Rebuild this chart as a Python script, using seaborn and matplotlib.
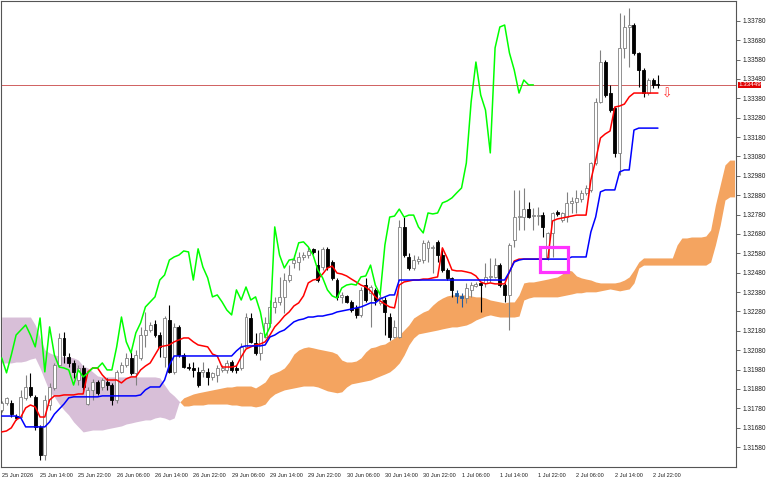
import matplotlib
matplotlib.use("Agg")
import matplotlib.pyplot as plt
import matplotlib.transforms as mtransforms
from matplotlib.patches import Rectangle
import numpy as np
import seaborn as sns

# H1 candles, bar 0 = 25 Jun 06:00
opens = [
    1.31771, 1.31808, 1.31808, 1.31740, 1.31735, 1.31834, 1.31890, 1.31839, 1.31684, 1.31539,
    1.31797, 1.31885, 1.32003, 1.32143, 1.32045, 1.32014, 1.31926, 1.31988, 1.31802, 1.31875,
    1.31916, 1.31890, 1.31916, 1.31900, 1.31823, 1.31968, 1.32003, 1.32040, 1.31963, 1.32040,
    1.32158, 1.32184, 1.32215, 1.32158, 1.32045, 1.32236, 1.31968, 1.32200, 1.32055, 1.31993,
    1.31988, 1.31968, 1.31968, 1.31968, 1.31942, 1.31952, 1.31978, 1.31978, 1.32019, 1.31988,
    1.31988, 1.32097, 1.32246, 1.32118, 1.32066, 1.32148, 1.32221, 1.32303, 1.32329, 1.32355,
    1.32442, 1.32530, 1.32535, 1.32561, 1.32571, 1.32603, 1.32519, 1.32509, 1.32603, 1.32535,
    1.32442, 1.32355, 1.32360, 1.32329, 1.32298, 1.32262, 1.32416, 1.32376, 1.32391, 1.32324,
    1.32339, 1.32251, 1.32148, 1.32148, 1.32716, 1.32561, 1.32504, 1.32540, 1.32545, 1.32608,
    1.32608, 1.32639, 1.32571, 1.32494, 1.32453, 1.32376, 1.32360, 1.32349, 1.32391, 1.32411,
    1.32427, 1.32427, 1.32458, 1.32458, 1.32519, 1.32416, 1.32365, 1.32649, 1.32767, 1.32767,
    1.32808, 1.32772, 1.32772, 1.32777, 1.32561, 1.32685, 1.32793, 1.32752, 1.32767, 1.32840,
    1.32845, 1.32861, 1.32892, 1.32907, 1.33046, 1.33361, 1.33567, 1.33407, 1.33330, 1.33098,
    1.33640, 1.33748, 1.33758, 1.33614, 1.33526, 1.33407, 1.33474, 1.33455,
]
highs = [
    1.31818, 1.31839, 1.31823, 1.31750, 1.31875, 1.31952, 1.31963, 1.31849, 1.31694, 1.31849,
    1.31911, 1.32014, 1.32169, 1.32174, 1.32066, 1.32029, 1.32003, 1.32003, 1.31890, 1.31932,
    1.31926, 1.31937, 1.31937, 1.31911, 1.31978, 1.32019, 1.32066, 1.32071, 1.32081, 1.32200,
    1.32277, 1.32226, 1.32236, 1.32174, 1.32256, 1.32313, 1.32221, 1.32210, 1.32066, 1.32014,
    1.32019, 1.31993, 1.32019, 1.31988, 1.31968, 1.32003, 1.32003, 1.32029, 1.32029, 1.32003,
    1.32118, 1.32272, 1.32272, 1.32169, 1.32174, 1.32251, 1.32339, 1.32355, 1.32458, 1.32479,
    1.32519, 1.32571, 1.32587, 1.32587, 1.32613, 1.32608, 1.32597, 1.32613, 1.32613, 1.32545,
    1.32453, 1.32381, 1.32365, 1.32339, 1.32313, 1.32406, 1.32453, 1.32416, 1.32401, 1.32370,
    1.32355, 1.32272, 1.32236, 1.32752, 1.32767, 1.32582, 1.32571, 1.32566, 1.32649, 1.32649,
    1.32623, 1.32649, 1.32608, 1.32504, 1.32458, 1.32391, 1.32376, 1.32427, 1.32432, 1.32432,
    1.32432, 1.32530, 1.32556, 1.32556, 1.32530, 1.32427, 1.32634, 1.32907, 1.32907, 1.32917,
    1.32845, 1.32814, 1.32819, 1.32793, 1.32690, 1.32793, 1.32803, 1.32793, 1.32896, 1.32871,
    1.32907, 1.32907, 1.32933, 1.33051, 1.33381, 1.33629, 1.33577, 1.33448, 1.33335, 1.33820,
    1.33810, 1.33846, 1.33769, 1.33619, 1.33536, 1.33484, 1.33484, 1.33500,
]
lows = [
    1.31761, 1.31797, 1.31735, 1.31720, 1.31730, 1.31823, 1.31839, 1.31668, 1.31513, 1.31513,
    1.31771, 1.31875, 1.31993, 1.32014, 1.31993, 1.31937, 1.31900, 1.31875, 1.31797, 1.31823,
    1.31849, 1.31875, 1.31875, 1.31797, 1.31808, 1.31963, 1.31993, 1.31952, 1.31900, 1.32029,
    1.32097, 1.32174, 1.32148, 1.32045, 1.31993, 1.31963, 1.31957, 1.32045, 1.31988, 1.31978,
    1.31942, 1.31890, 1.31942, 1.31900, 1.31926, 1.31916, 1.31968, 1.31963, 1.31968, 1.31963,
    1.31978, 1.32092, 1.32118, 1.32055, 1.32029, 1.32143, 1.32200, 1.32272, 1.32313, 1.32272,
    1.32432, 1.32504, 1.32494, 1.32545, 1.32556, 1.32576, 1.32432, 1.32494, 1.32494, 1.32442,
    1.32339, 1.32324, 1.32324, 1.32277, 1.32246, 1.32251, 1.32329, 1.32200, 1.32313, 1.32313,
    1.32158, 1.32133, 1.32143, 1.32143, 1.32561, 1.32494, 1.32494, 1.32524, 1.32530, 1.32535,
    1.32479, 1.32535, 1.32484, 1.32442, 1.32355, 1.32324, 1.32303, 1.32324, 1.32355, 1.32406,
    1.32277, 1.32406, 1.32432, 1.32453, 1.32406, 1.32329, 1.32184, 1.32613, 1.32700, 1.32700,
    1.32762, 1.32700, 1.32726, 1.32664, 1.32545, 1.32561, 1.32772, 1.32742, 1.32742, 1.32788,
    1.32788, 1.32845, 1.32881, 1.32897, 1.33035, 1.33356, 1.33387, 1.33309, 1.33077, 1.32984,
    1.33588, 1.33541, 1.33603, 1.33438, 1.33387, 1.33397, 1.33433, 1.33433,
]
closes = [
    1.31808, 1.31834, 1.31750, 1.31730, 1.31839, 1.31890, 1.31849, 1.31684, 1.31539, 1.31823,
    1.31890, 1.32003, 1.32143, 1.32055, 1.32014, 1.31968, 1.31988, 1.31890, 1.31875, 1.31916,
    1.31860, 1.31926, 1.31900, 1.31823, 1.31968, 1.32003, 1.32040, 1.31963, 1.32055, 1.32158,
    1.32184, 1.32210, 1.32158, 1.32097, 1.32246, 1.31968, 1.32200, 1.32055, 1.31993, 1.31988,
    1.31978, 1.31900, 1.31978, 1.31942, 1.31963, 1.31988, 1.31988, 1.32014, 1.31978, 1.31978,
    1.32097, 1.32251, 1.32123, 1.32066, 1.32169, 1.32221, 1.32303, 1.32329, 1.32355, 1.32442,
    1.32468, 1.32545, 1.32561, 1.32571, 1.32592, 1.32587, 1.32442, 1.32603, 1.32509, 1.32453,
    1.32355, 1.32365, 1.32329, 1.32287, 1.32262, 1.32391, 1.32339, 1.32406, 1.32339, 1.32355,
    1.32277, 1.32148, 1.32200, 1.32716, 1.32571, 1.32504, 1.32545, 1.32550, 1.32634, 1.32639,
    1.32613, 1.32571, 1.32494, 1.32453, 1.32391, 1.32360, 1.32349, 1.32401, 1.32416, 1.32421,
    1.32416, 1.32458, 1.32463, 1.32519, 1.32416, 1.32365, 1.32623, 1.32767, 1.32772, 1.32808,
    1.32767, 1.32777, 1.32777, 1.32716, 1.32685, 1.32788, 1.32783, 1.32788, 1.32840, 1.32850,
    1.32866, 1.32892, 1.32917, 1.33046, 1.33361, 1.33567, 1.33397, 1.33319, 1.33098, 1.33640,
    1.33748, 1.33758, 1.33614, 1.33526, 1.33407, 1.33474, 1.33449, 1.33449,
]

# Ichimoku lines
tenkan = [
    1.31658, 1.31663, 1.31679, 1.31720, 1.31735, 1.31782, 1.31797, 1.31787, 1.31735, 1.31735,
    1.31823, 1.31844, 1.31844, 1.31849, 1.31849, 1.31849, 1.31854, 1.31854, 1.31968, 1.31988,
    1.31988, 1.31952, 1.31926, 1.31926, 1.31926, 1.31911, 1.31932, 1.31942, 1.31942, 1.31978,
    1.31998, 1.32014, 1.32055, 1.32097, 1.32102, 1.32107, 1.32123, 1.32133, 1.32143, 1.32143,
    1.32123, 1.32107, 1.32102, 1.32097, 1.32060, 1.32050, 1.31993, 1.31993, 1.31993, 1.31998,
    1.32045, 1.32086, 1.32097, 1.32107, 1.32112, 1.32123, 1.32158, 1.32200, 1.32226, 1.32256,
    1.32277, 1.32308, 1.32324, 1.32360, 1.32427, 1.32442, 1.32447, 1.32473, 1.32504, 1.32514,
    1.32478, 1.32473, 1.32463, 1.32447, 1.32432, 1.32416, 1.32406, 1.32386, 1.32355, 1.32334,
    1.32318, 1.32303, 1.32298, 1.32416, 1.32432, 1.32437, 1.32442, 1.32442, 1.32447, 1.32447,
    1.32453, 1.32458, 1.32608, 1.32556, 1.32494, 1.32489, 1.32489, 1.32484, 1.32478, 1.32463,
    1.32432, 1.32422, 1.32427, 1.32422, 1.32422, 1.32422, 1.32484, 1.32540, 1.32550, 1.32550,
    1.32550, 1.32550, 1.32550, 1.32550, 1.32550, 1.32747, 1.32757, 1.32762, 1.32767, 1.32772,
    1.32777, 1.32777, 1.32777, 1.32958, 1.33061, 1.33175, 1.33196, 1.33211, 1.33335, 1.33340,
    1.33350, 1.33387, 1.33407, 1.33407, 1.33407, 1.33407, 1.33407, 1.33407,
]
kijun = [
    1.31740, 1.31740, 1.31740, 1.31740, 1.31730, 1.31684, 1.31684, 1.31684, 1.31684, 1.31684,
    1.31710, 1.31750, 1.31776, 1.31802, 1.31834, 1.31839, 1.31839, 1.31839, 1.31839, 1.31839,
    1.31839, 1.31844, 1.31844, 1.31844, 1.31844, 1.31844, 1.31844, 1.31844, 1.31844, 1.31849,
    1.31875, 1.31890, 1.31890, 1.31890, 1.31926, 1.32003, 1.32050, 1.32050, 1.32050, 1.32050,
    1.32050, 1.32050, 1.32050, 1.32050, 1.32050, 1.32050, 1.32050, 1.32050, 1.32050, 1.32076,
    1.32097, 1.32102, 1.32102, 1.32102, 1.32102, 1.32107, 1.32148, 1.32158, 1.32174, 1.32184,
    1.32205, 1.32226, 1.32236, 1.32241, 1.32251, 1.32251, 1.32256, 1.32256, 1.32262, 1.32267,
    1.32277, 1.32282, 1.32287, 1.32292, 1.32298, 1.32303, 1.32313, 1.32324, 1.32324, 1.32344,
    1.32355, 1.32365, 1.32365, 1.32442, 1.32442, 1.32442, 1.32442, 1.32442, 1.32442, 1.32442,
    1.32442, 1.32442, 1.32442, 1.32442, 1.32442, 1.32442, 1.32442, 1.32442, 1.32442, 1.32442,
    1.32442, 1.32442, 1.32442, 1.32442, 1.32442, 1.32442, 1.32484, 1.32535, 1.32545, 1.32550,
    1.32550, 1.32550, 1.32550, 1.32550, 1.32550, 1.32550, 1.32550, 1.32550, 1.32550, 1.32561,
    1.32561, 1.32561, 1.32561, 1.32690, 1.32767, 1.32897, 1.32907, 1.32907, 1.32907, 1.33000,
    1.33010, 1.33010, 1.33216, 1.33226, 1.33226, 1.33226, 1.33226, 1.33226,
]
# cloud, already shifted forward (runs past the last candle)
span_a = [
    1.32014, 1.32014, 1.32014, 1.32019, 1.32019, 1.32024, 1.32034, 1.32040, 1.31988, 1.31926,
    1.31865, 1.31839, 1.31802, 1.31771, 1.31745, 1.31710, 1.31684, 1.31658, 1.31663, 1.31668,
    1.31668, 1.31668, 1.31674, 1.31679, 1.31684, 1.31689, 1.31699, 1.31704, 1.31710, 1.31715,
    1.31720, 1.31720, 1.31730, 1.31735, 1.31730, 1.31720, 1.31730, 1.31808, 1.31834, 1.31844,
    1.31854, 1.31860, 1.31865, 1.31870, 1.31875, 1.31880, 1.31885, 1.31890, 1.31890, 1.31895,
    1.31895, 1.31895, 1.31895, 1.31885, 1.31900, 1.31916, 1.31952, 1.31963, 1.31973, 1.31988,
    1.32019, 1.32060, 1.32081, 1.32092, 1.32097, 1.32092, 1.32086, 1.32081, 1.32076, 1.32071,
    1.32060, 1.32029, 1.32019, 1.32019, 1.32024, 1.32040, 1.32071, 1.32092, 1.32097, 1.32107,
    1.32112, 1.32128, 1.32143, 1.32158, 1.32184, 1.32210, 1.32246, 1.32262, 1.32277, 1.32287,
    1.32313, 1.32334, 1.32349, 1.32360, 1.32365, 1.32365, 1.32365, 1.32365, 1.32360, 1.32355,
    1.32355, 1.32349, 1.32339, 1.32334, 1.32329, 1.32324, 1.32329, 1.32329, 1.32365, 1.32427,
    1.32432, 1.32432, 1.32437, 1.32442, 1.32447, 1.32453, 1.32458, 1.32473, 1.32494, 1.32489,
    1.32463, 1.32453, 1.32447, 1.32442, 1.32432, 1.32427, 1.32427, 1.32427, 1.32427, 1.32432,
    1.32442, 1.32458, 1.32494, 1.32535, 1.32556, 1.32556, 1.32556, 1.32556, 1.32556, 1.32556,
    1.32556, 1.32623, 1.32659, 1.32659, 1.32664, 1.32664, 1.32664, 1.32669, 1.32700, 1.32829,
    1.32933, 1.33036, 1.33061, 1.33061,
]
span_b = [
    1.32251, 1.32251, 1.32251, 1.32251, 1.32251, 1.32251, 1.32251, 1.32210, 1.32143, 1.32081,
    1.32066, 1.32055, 1.32050, 1.32045, 1.32045, 1.32040, 1.32029, 1.31998, 1.31988, 1.31968,
    1.31947, 1.31942, 1.31942, 1.31942, 1.31942, 1.31942, 1.31942, 1.31942, 1.31942, 1.31942,
    1.31942, 1.31942, 1.31942, 1.31937, 1.31900, 1.31865, 1.31844, 1.31818, 1.31792, 1.31792,
    1.31797, 1.31797, 1.31797, 1.31802, 1.31802, 1.31802, 1.31802, 1.31802, 1.31797, 1.31797,
    1.31792, 1.31792, 1.31792, 1.31787, 1.31792, 1.31802, 1.31834, 1.31854, 1.31865, 1.31875,
    1.31880, 1.31885, 1.31890, 1.31895, 1.31895, 1.31895, 1.31890, 1.31880, 1.31870, 1.31865,
    1.31860, 1.31865, 1.31890, 1.31906, 1.31911, 1.31916, 1.31921, 1.31926, 1.31937, 1.31947,
    1.31957, 1.31968, 1.31988, 1.32014, 1.32055, 1.32107, 1.32143, 1.32164, 1.32169, 1.32174,
    1.32179, 1.32184, 1.32190, 1.32195, 1.32200, 1.32200, 1.32205, 1.32210, 1.32221, 1.32236,
    1.32246, 1.32256, 1.32262, 1.32256, 1.32251, 1.32251, 1.32251, 1.32251, 1.32256, 1.32339,
    1.32349, 1.32355, 1.32355, 1.32355, 1.32355, 1.32355, 1.32355, 1.32360, 1.32365, 1.32370,
    1.32376, 1.32376, 1.32381, 1.32381, 1.32381, 1.32386, 1.32391, 1.32396, 1.32391, 1.32386,
    1.32391, 1.32396, 1.32427, 1.32504, 1.32519, 1.32519, 1.32519, 1.32519, 1.32519, 1.32519,
    1.32519, 1.32519, 1.32519, 1.32519, 1.32519, 1.32519, 1.32519, 1.32519, 1.32535, 1.32623,
    1.32726, 1.32855, 1.32871, 1.32871,
]

tick_bars = [0, 8, 16, 24, 32, 40, 48, 56, 64, 72, 80, 88, 96, 104, 112, 120, 128, 136]
tick_labels = ["25 Jun 2026", "25 Jun 14:00", "25 Jun 22:00", "26 Jun 06:00", "26 Jun 14:00",
               "26 Jun 22:00", "29 Jun 06:00", "29 Jun 14:00", "29 Jun 22:00", "30 Jun 06:00",
               "30 Jun 14:00", "30 Jun 22:00", "1 Jul 06:00", "1 Jul 14:00", "1 Jul 22:00",
               "2 Jul 06:00", "2 Jul 14:00", "2 Jul 22:00"]
blue_bars = [95, 96]
signal_bar, signal_price = 139, 1.33400
box_bars = (112.3, 118.2)
box_prices = (1.32484, 1.32612)

sns.set_style("white")
plt.rcParams['font.family'] = ['Liberation Sans', 'DejaVu Sans']

o = np.array(opens); h = np.array(highs); l = np.array(lows); c = np.array(closes)
bars = np.arange(len(c))
cloud_bars = np.arange(len(span_a))
a = np.array(span_a); b = np.array(span_b)

fig = plt.figure(figsize=(7.68, 4.8), dpi=100)
ax = fig.add_axes([1 / 768, 13 / 480, 735 / 768, 466 / 480])
ax.set_facecolor('white')

# cloud
ax.fill_between(cloud_bars, a, b, where=a >= b, interpolate=True, color='#f4a460', lw=0, zorder=1)
ax.fill_between(cloud_bars, a, b, where=a <= b, interpolate=True, color='#d8bfd8', lw=0, zorder=1)

ax.axhline(c[-1], color='#d06060', lw=0.7, zorder=2)

# candles
up = c >= o
line_col = np.where(up, '#808080', '#000000').astype(object)
face_col = np.where(up, '#ffffff', '#000000').astype(object)
for i in blue_bars:
    line_col[i] = '#1e5aa0'
    face_col[i] = '#1e5aa0'
ax.vlines(bars, l, h, colors=list(line_col), lw=0.8, zorder=3)
ax.bar(bars, np.abs(c - o), bottom=np.minimum(o, c), width=0.62,
       color=list(face_col), edgecolor=list(line_col), linewidth=0.6, zorder=4)

# ichimoku lines
sns.lineplot(x=bars, y=tenkan, color='#ff0000', lw=1.1, ax=ax, zorder=5)
sns.lineplot(x=bars, y=kijun, color='#0000ff', lw=1.1, ax=ax, zorder=5)
sns.lineplot(x=bars[:-26], y=c[26:], color='#00ff00', lw=1.1, ax=ax, zorder=5)

ax.add_patch(Rectangle((box_bars[0], box_prices[0]), box_bars[1] - box_bars[0],
                       box_prices[1] - box_prices[0], fill=False, ec='#ff33ff', lw=2.3, zorder=6))
ax.text(signal_bar, signal_price, '\u21e9', color='#ff3030', fontsize=9, ha='center', va='center',
        family='DejaVu Sans', zorder=6)

ax.set_xlim(-0.15, 153.3)
ax.set_ylim(1.31477, 1.33882)

yt = np.round(np.arange(1.31580, 1.33781, 0.001), 5)
ax.yaxis.tick_right()
ax.set_yticks(yt)
ax.set_yticklabels([f"{v:.5f}" for v in yt])
ax.set_xticks(tick_bars)
ax.set_xticklabels(tick_labels, ha='left')
ax.tick_params(axis='y', direction='out', length=3, width=0.6, color='#505050',
               labelsize=4.7, pad=1.5, labelcolor='#202020')
ax.tick_params(axis='x', direction='out', length=3, width=0.6, color='#505050',
               labelsize=4.1, pad=1.2, labelcolor='#202020')
ax.set_xlabel('')
ax.set_ylabel('')
for s in ax.spines.values():
    s.set_color('#555555')
    s.set_linewidth(0.8)

trans = mtransforms.blended_transform_factory(ax.transAxes, ax.transData)
ax.text(1.003, c[-1], f"{c[-1]:.5f}", transform=trans, color='white', fontsize=4.5,
        ha='left', va='center', zorder=7,
        bbox=dict(boxstyle='square,pad=0.08', fc='#e00000', ec='none'))

fig.savefig('out.png', dpi=100)
